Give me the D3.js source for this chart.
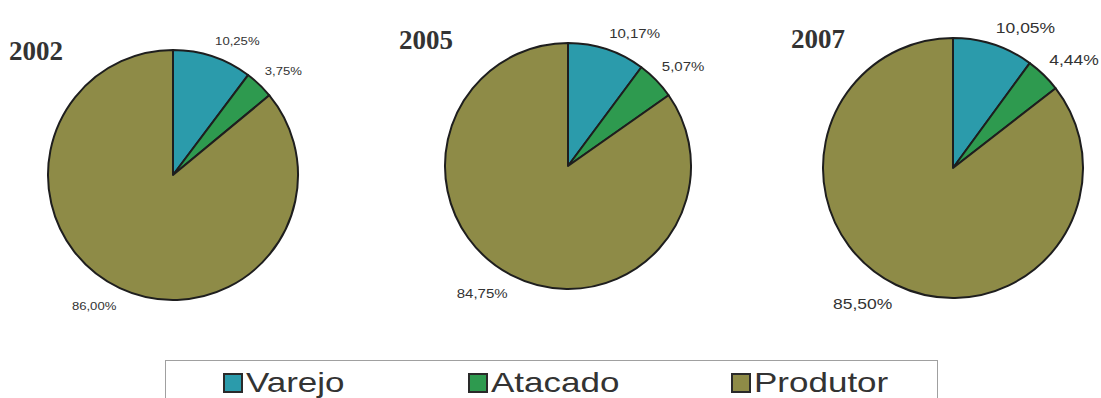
<!DOCTYPE html>
<html><head><meta charset="utf-8">
<script src="https://cdn.jsdelivr.net/npm/d3@7"></script>
<style>body{margin:0;background:#fff}svg{display:block}</style>
</head><body>
<script>
// ---- data ----
const categories = ["Varejo", "Atacado", "Produtor"];
const years = ["2002", "2005", "2007"];
const values2002 = [10.25, 3.75, 86.00];
const values2005 = [10.17, 5.07, 84.75];
const values2007 = [10.05, 4.44, 85.50];
const labels2002 = ["10,25%", "3,75%", "86,00%"];
const labels2005 = ["10,17%", "5,07%", "84,75%"];
const labels2007 = ["10,05%", "4,44%", "85,50%"];
const colors = ["#2b9bab", "#2e9a4f", "#8e8b47"];

// ---- layout ----
const W = 1101, H = 398;
const pies = [
  {year: years[0], values: values2002, labels: labels2002, cx: 173, cy: 175, r: 125, fs: 10.5, tx: 9, ty: 60},
  {year: years[1], values: values2005, labels: labels2005, cx: 568, cy: 166, r: 123, fs: 12, tx: 399, ty: 49},
  {year: years[2], values: values2007, labels: labels2007, cx: 953, cy: 168, r: 130, fs: 14, tx: 791, ty: 48}
];
const SX = 1.25; // horizontal stretch of the scanned sans text

const svg = d3.select("body").append("svg").attr("width", W).attr("height", H);
const color = d3.scaleOrdinal().domain(categories).range(colors);
const pie = d3.pie().sort(null).value(d => d.v);

pies.forEach(p => {
  const data = categories.map((c, i) => ({c, v: p.values[i], label: p.labels[i]}));
  const arcs = pie(data);
  const arc = d3.arc().innerRadius(0).outerRadius(p.r);
  const g = svg.append("g").attr("transform", `translate(${p.cx},${p.cy})`);
  g.selectAll("path").data(arcs).join("path")
    .attr("d", arc)
    .attr("fill", d => color(d.data.c))
    .attr("stroke", "#1e1e1e")
    .attr("stroke-width", 2)
    .attr("stroke-linejoin", "round");

  const lr = p.r + 8;
  arcs.forEach(a => {
    const mid = (a.startAngle + a.endAngle) / 2;
    const x = Math.sin(mid) * lr, y = -Math.cos(mid) * lr;
    const right = x >= 0;
    const upper = y < 0;
    const t = g.append("g").attr("transform", `translate(${x},${upper ? y - 4 : y + 7}) scale(${SX},1)`);
    t.append("text")
      .attr("text-anchor", right ? "start" : "end")
      .attr("dominant-baseline", upper ? "auto" : "hanging")
      .attr("font-family", "'Liberation Sans', Arial, sans-serif")
      .attr("font-size", p.fs)
      .attr("fill", "#333")
      .text(a.data.label);
  });

  svg.append("text")
    .attr("x", p.tx).attr("y", p.ty)
    .attr("font-family", "'Liberation Serif', 'Times New Roman', serif")
    .attr("font-weight", "bold")
    .attr("font-size", 27)
    .attr("fill", "#333")
    .text(p.year);
});

// ---- legend ----
const legendX = [223, 468, 731];
svg.append("rect")
  .attr("x", 165.5).attr("y", 360.5).attr("width", 772).attr("height", 60)
  .attr("fill", "none").attr("stroke", "#a0a0a0").attr("stroke-width", 1);
const lg = svg.selectAll("g.leg").data(categories).join("g").attr("class", "leg")
  .attr("transform", (d, i) => `translate(${legendX[i]},373)`);
lg.append("rect")
  .attr("x", 1).attr("y", 1).attr("width", 18).attr("height", 18)
  .attr("fill", d => color(d)).attr("stroke", "#2a2a2a").attr("stroke-width", 2);
lg.append("g").attr("transform", `translate(23,19) scale(${SX},1)`)
  .append("text")
  .attr("font-family", "'Liberation Sans', Arial, sans-serif")
  .attr("font-size", 28)
  .attr("fill", "#333")
  .text(d => d);
</script>
</body></html>
